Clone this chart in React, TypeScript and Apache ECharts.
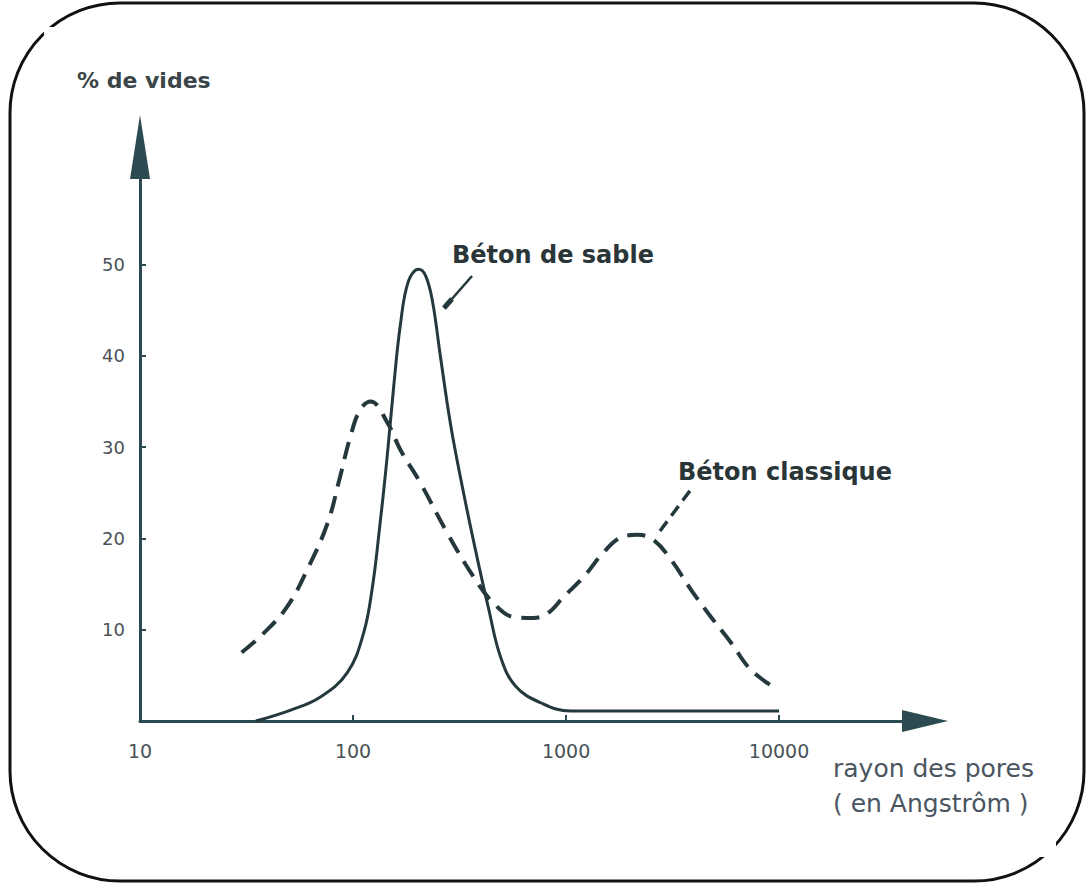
import React, { useEffect, useRef } from "react";
import * as echarts from "echarts";

// Pore radius (Angström) and % of voids
const sableRadius = [35, 51, 70, 94, 112, 123, 133, 144, 155, 167, 182, 203, 219, 236, 257, 287, 327, 376, 433, 493, 580, 760, 1050, 10000];
const sableVoids = [0, 1.2, 2.6, 5.3, 9.6, 14.5, 21.0, 28.5, 36.5, 43.5, 48.2, 49.5, 48.8, 46.0, 40.0, 32.5, 25.5, 18.7, 12.3, 7.0, 3.8, 2.0, 1.1, 1.1];

const classiqueRadius = [30, 38, 49, 61, 76, 87, 97, 108, 121, 145, 167, 207, 277, 368, 457, 568, 705, 819, 974, 1210, 1503, 1806, 2172, 2582, 3104, 3856, 4790, 5940, 7380, 9890];
const classiqueVoids = [7.5, 9.6, 12.5, 16.6, 21.7, 26.8, 31.1, 34.1, 35.0, 32.7, 29.7, 26.1, 20.6, 15.8, 12.9, 11.4, 11.3, 11.8, 13.6, 15.8, 18.5, 20.1, 20.4, 19.8, 17.7, 14.4, 11.4, 8.6, 5.6, 3.4];

const xTickRadius = [10, 100, 1000, 10000];
const yTickValues = [10, 20, 30, 40, 50];

const seriesNames = ["Béton de sable", "Béton classique"];
const yAxisTitle = "% de vides";
const xAxisTitle = ["rayon des pores", "( en Angstrôm )"];

const toLog = (r: number) => Math.log10(r);

export default function App() {
  const ref = useRef<HTMLDivElement>(null);
  useEffect(() => {
    if (!ref.current) return;
    const chart = echarts.init(ref.current, undefined, { renderer: "svg" });
    const axisColor = "#2c4a52";
    const curveColor = "#24383d";
    const labelFont = "'DejaVu Sans', sans-serif";
    chart.setOption({
      animation: false,
      backgroundColor: "#ffffff",
      grid: { left: 140, right: 161, top: 147, bottom: 166 },
      xAxis: {
        type: "value",
        min: 1,
        max: 4.685,
        splitLine: { show: false },
        axisLine: {
          show: true,
          lineStyle: { color: axisColor, width: 3 },
          symbol: ["none", "triangle"],
          symbolSize: [22, 46],
        },
        axisTick: {
          show: true,
          inside: true,
          length: 6,
          customValues: xTickRadius.map(toLog).slice(1),
          lineStyle: { color: axisColor, width: 2 },
        },
        axisLabel: {
          customValues: xTickRadius.map(toLog),
          formatter: (v: number) => String(Math.round(Math.pow(10, v))),
          margin: 20,
          fontSize: 19,
          fontFamily: labelFont,
          color: "#4a5257",
        },
      },
      yAxis: {
        type: "value",
        min: 0,
        max: 62.9,
        splitLine: { show: false },
        axisLine: {
          show: true,
          lineStyle: { color: axisColor, width: 3 },
          symbol: ["none", "triangle"],
          symbolSize: [20, 64],
        },
        axisTick: {
          show: true,
          inside: true,
          length: 6,
          customValues: yTickValues,
          lineStyle: { color: axisColor, width: 2 },
        },
        axisLabel: {
          customValues: yTickValues,
          margin: 15,
          fontSize: 18,
          fontFamily: labelFont,
          color: "#4a5257",
        },
      },
      series: [
        {
          name: seriesNames[0],
          type: "line",
          smooth: 0.4,
          symbol: "none",
          data: sableRadius.map((r, i) => [toLog(r), sableVoids[i]]),
          lineStyle: { color: curveColor, width: 3 },
          z: 3,
        },
        {
          name: seriesNames[1],
          type: "line",
          smooth: 0.4,
          symbol: "none",
          data: classiqueRadius.map((r, i) => [toLog(r), classiqueVoids[i]]),
          lineStyle: { color: curveColor, width: 4, type: [18, 10] },
          z: 2,
        },
      ],
      graphic: [
        {
          type: "rect",
          shape: { x: 10, y: 3, width: 1074, height: 878, r: 110 },
          style: { fill: "none", stroke: "#111111", lineWidth: 3 },
          silent: true,
        },
        {
          type: "rect",
          shape: { x: 44, y: 27, width: 12, height: 12 },
          style: { fill: "#ffffff" },
          silent: true,
        },
        {
          type: "rect",
          shape: { x: 1036, y: 837, width: 20, height: 20 },
          style: { fill: "#ffffff" },
          silent: true,
        },
        {
          type: "text",
          x: 77,
          y: 80,
          style: {
            text: yAxisTitle,
            fontSize: 22,
            fontWeight: "bold",
            fontFamily: labelFont,
            fill: "#3a4549",
            verticalAlign: "middle",
          },
        },
        {
          type: "text",
          x: 833,
          y: 768,
          style: {
            text: xAxisTitle[0],
            fontSize: 25,
            fontFamily: labelFont,
            fill: "#4a5560",
            verticalAlign: "middle",
          },
        },
        {
          type: "text",
          x: 833,
          y: 803,
          style: {
            text: xAxisTitle[1],
            fontSize: 25,
            fontFamily: labelFont,
            fill: "#4a5560",
            verticalAlign: "middle",
          },
        },
        {
          type: "text",
          x: 452,
          y: 255,
          style: {
            text: seriesNames[0],
            fontSize: 24,
            fontWeight: "bold",
            fontFamily: labelFont,
            fill: "#2a3538",
            verticalAlign: "middle",
          },
        },
        {
          type: "text",
          x: 678,
          y: 472,
          style: {
            text: seriesNames[1],
            fontSize: 24,
            fontWeight: "bold",
            fontFamily: labelFont,
            fill: "#2a3538",
            verticalAlign: "middle",
          },
        },
        {
          type: "line",
          shape: { x1: 444, y1: 308, x2: 472, y2: 276 },
          style: { stroke: curveColor, lineWidth: 2.5 },
        },
        {
          type: "line",
          shape: { x1: 444, y1: 308, x2: 452, y2: 299 },
          style: { stroke: curveColor, lineWidth: 5 },
        },
        {
          type: "line",
          shape: { x1: 660, y1: 531, x2: 692, y2: 488 },
          style: { stroke: curveColor, lineWidth: 3.5, lineDash: [12, 7] },
        },
      ],
    });
    return () => chart.dispose();
  }, []);
  return (
    <div
      ref={ref}
      style={{ position: "absolute", left: 0, top: 0, width: 1086, height: 887, background: "#fff" }}
    />
  );
}
